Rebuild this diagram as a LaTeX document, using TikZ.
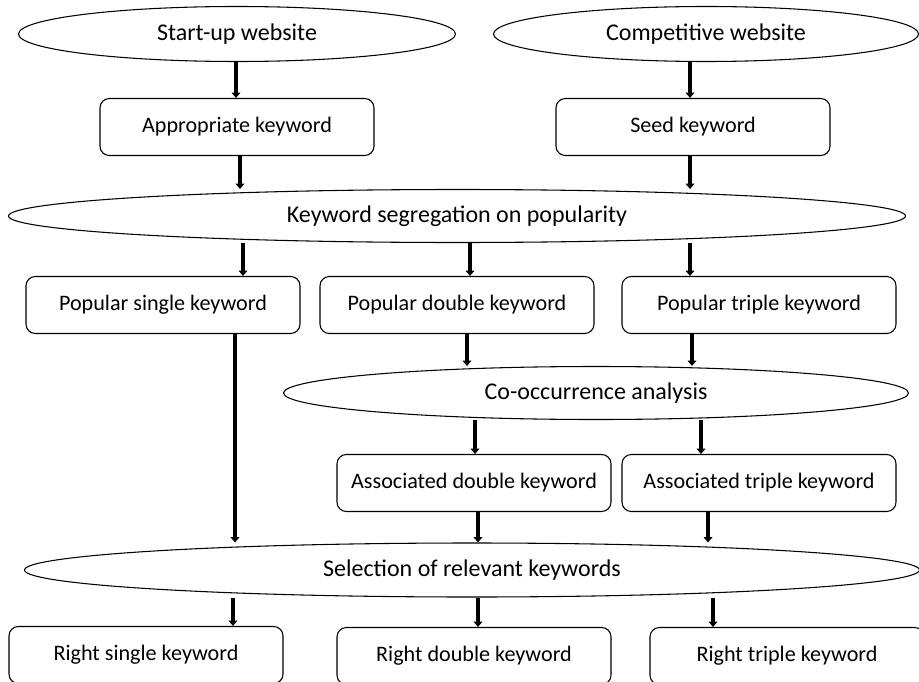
\documentclass[tikz,border=0pt]{standalone}
\usepackage{fontspec}
\setmainfont{Carlito}
\usetikzlibrary{shapes.geometric}
\usetikzlibrary{arrows.meta}

\begin{document}
\begin{tikzpicture}[x=0.75pt,y=-0.75pt,
	oval/.style={draw,ellipse,inner sep=0pt,line width=0.8pt,font=\fontsize{18}{21}\selectfont},
	kbox/.style={draw,rounded corners=7pt,minimum width=205.5pt,minimum height=42.75pt,inner sep=0pt,line width=0.8pt,font=\fontsize{16.6}{19}\selectfont},
	arr/.style={line width=3.2pt,-{Triangle[width=6.5pt,length=4pt]}}]
			\useasboundingbox (0,0) rectangle (919,681);
			
			% draw ellipses
			\node[oval,minimum width=327.75pt,minimum height=41.25pt] (start) at (237,34) {Start-up website};
			\node[oval,minimum width=318.75pt,minimum height=41.25pt] (comp) at (706,34) {Competitive website};
			\node[oval,minimum width=672.75pt,minimum height=39.75pt] (seg) at (457,216) {Keyword segregation on popularity};
			\node[oval,minimum width=468.75pt,minimum height=39.75pt] (cooc) at (596,393) {Co-occurrence analysis};
			\node[oval,minimum width=671.25pt,minimum height=40.5pt] (sel) at (472,570) {Selection of relevant keywords};
			
			% draw boxes
			\node[kbox] (approp) at (237,127) {Appropriate keyword};
			\node[kbox] (seed) at (693,127) {Seed keyword};
			\node[kbox] (single) at (163,305) {Popular single keyword};
			\node[kbox] (double) at (457,305) {Popular double keyword};
			\node[kbox] (triple) at (759,305) {Popular triple keyword};
			\node[kbox] (adouble) at (474,483) {Associated double keyword};
			\node[kbox] (atriple) at (759,483) {Associated triple keyword};
			\node[kbox] (rsingle) at (146,655) {Right single keyword};
			\node[kbox] (rdouble) at (474,656) {Right double keyword};
			\node[kbox] (rtriple) at (787,656) {Right triple keyword};
			
			% draw arrows
			\foreach \a/\b/\x in {start/approp/236,comp/seed/690,approp/seg/240,seed/seg/690,
				seg/single/243,seg/double/470,seg/triple/690,double/cooc/467,triple/cooc/692,
				cooc/adouble/475,cooc/atriple/701,single/sel/235,adouble/sel/478,atriple/sel/708,
				sel/rsingle/233,sel/rdouble/478,sel/rtriple/713}
			\draw[arr] (\a.south -| \x,0) -- (\b.north -| \x,0);
\end{tikzpicture}
\end{document}
